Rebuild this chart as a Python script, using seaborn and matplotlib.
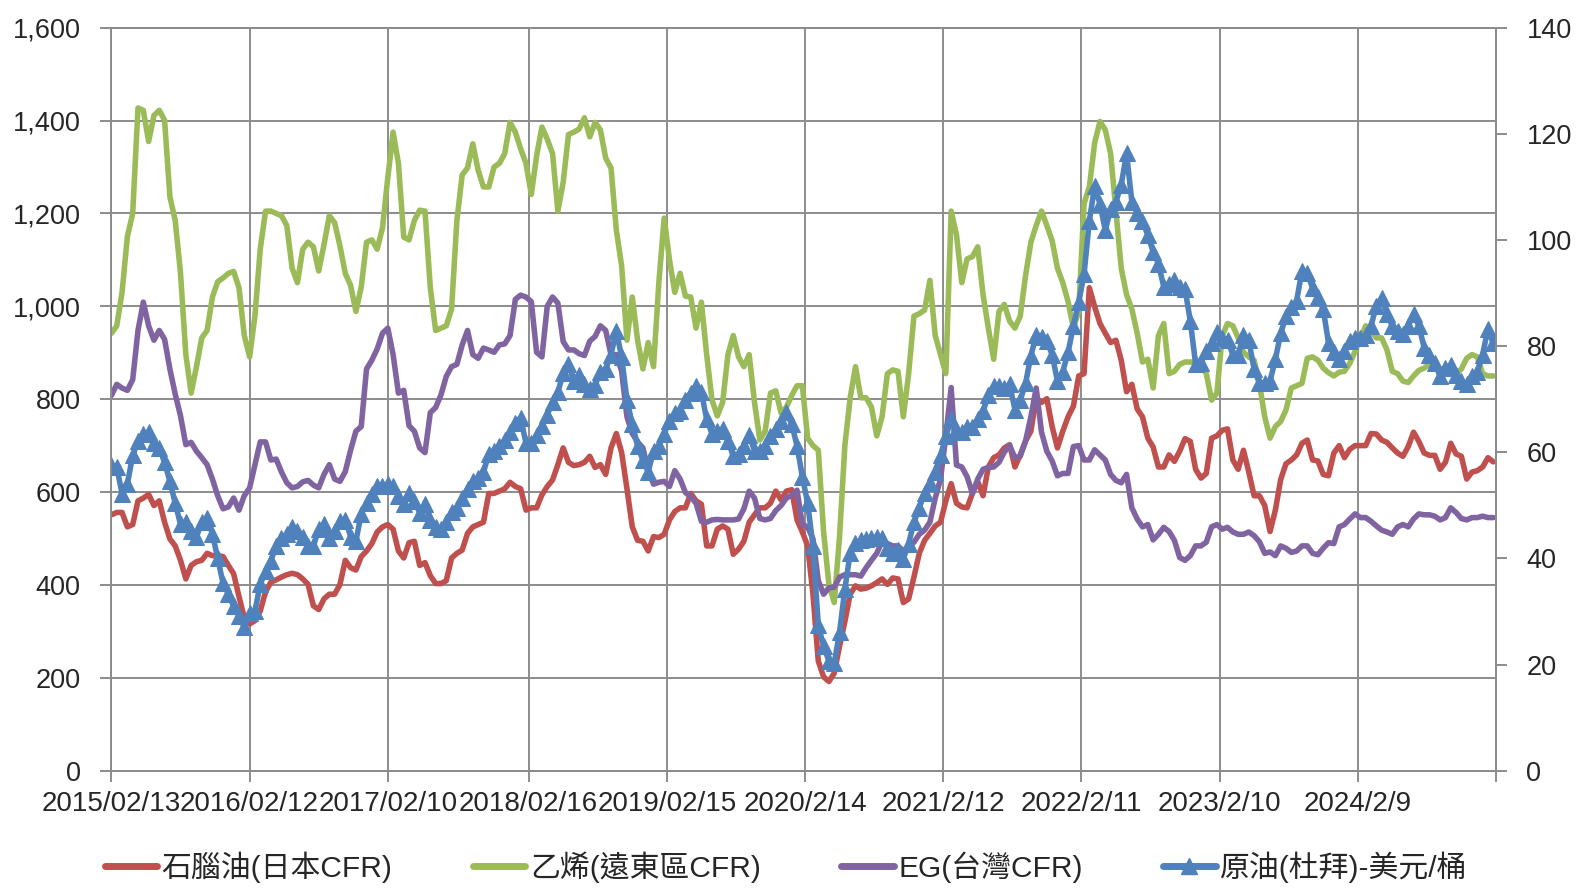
import pandas as pd
import matplotlib.pyplot as plt
import seaborn as sns
from matplotlib.lines import Line2D
from matplotlib.ticker import FuncFormatter

# bi-weekly readings starting 2015/02/13
start_date = '2015-02-13'

naphtha = [
    551, 556, 556, 525, 530, 581, 587, 595, 571, 581, 535, 499, 484, 453, 413, 442, 450, 453, 468, 463, 463, 461,
    442, 424, 375, 329, 316, 323, 344, 385, 406, 411, 417, 422, 425, 422, 413, 401, 355, 347, 370, 380, 380, 401,
    453, 437, 432, 461, 473, 489, 514, 525, 530, 520, 473, 458, 491, 494, 442, 448, 420, 403, 403, 409, 458, 468,
    475, 511, 525, 530, 535, 597, 597, 602, 607, 621, 612, 607, 561, 566, 566, 594, 612, 626, 659, 695, 664,
    657, 659, 664, 677, 653, 659, 638, 695, 726, 685, 607, 525, 496, 494, 473, 504, 502, 509, 540, 558, 566, 566,
    597, 581, 574, 484, 484, 520, 527, 520, 466, 477, 494, 535, 551, 566, 566, 576, 602, 583, 602, 605, 540,
    514, 484, 380, 236, 202, 192, 210, 268, 321, 380, 398, 391, 393, 398, 405, 413, 401, 415, 413, 362, 370, 417,
    468, 496, 511, 527, 535, 581, 618, 576, 568, 566, 597, 623, 592, 654, 674, 680, 695, 702, 654, 680, 710,
    731, 803, 793, 801, 741, 695, 731, 762, 785, 850, 855, 1040, 999, 963, 942, 922, 927, 884, 816, 832, 779, 762,
    716, 697, 654, 654, 680, 666, 688, 715, 709, 649, 630, 640, 716, 721, 733, 736, 669, 649, 690, 643, 592,
    592, 571, 515, 561, 627, 661, 669, 680, 705, 712, 669, 667, 638, 635, 684, 700, 674, 692, 700, 700, 700, 726,
    725, 712, 707, 695, 684, 677, 698, 729, 709, 684, 679, 679, 649, 664, 705, 682, 677, 628, 643, 646, 654, 674, 665,
]

ethylene = [
    942, 958, 1030, 1150, 1200, 1427, 1422, 1355, 1411, 1422, 1401, 1236, 1185, 1071, 896, 813, 870, 932, 948, 1020,
    1053, 1061, 1071, 1075, 1040, 937, 891, 979, 1123, 1205, 1205, 1200, 1195, 1174, 1082, 1051, 1123, 1138, 1128,
    1076, 1133, 1195, 1180, 1130,
    1071, 1045, 989, 1041, 1138, 1143, 1123, 1169, 1277, 1375, 1308, 1149, 1143, 1185, 1207, 1205, 1040, 948, 953,
    958, 994, 1185, 1283, 1298, 1350, 1293, 1257, 1257, 1300, 1308, 1329, 1396, 1375, 1339, 1308, 1241, 1324, 1386,
    1360, 1329, 1205, 1267, 1370,
    1375, 1382, 1406, 1365, 1396, 1380, 1319, 1298, 1164, 1087, 927, 1020, 927, 865, 922, 870, 1051, 1190, 1100,
    1030, 1071, 1022, 1020, 953, 1009, 896, 798, 764, 793, 896, 937, 891, 870, 896, 793, 712, 731, 813, 818, 770,
    783, 808, 829,
    829, 716, 700, 690, 514, 401, 362, 504, 700, 803, 870, 803, 803, 783, 721, 762, 855, 863, 860, 762, 855, 979,
    984, 992, 1056, 937, 896, 855, 1205, 1154, 1051, 1102, 1107, 1128, 1025, 953, 886, 989, 1004, 968, 953, 979, 1066,
    1138, 1174, 1205, 1174, 1141, 1082, 1051, 1010, 953, 989, 1221, 1257, 1352, 1398, 1380, 1329, 1205, 1082, 1025,
    994, 942, 880, 886, 824, 937, 963, 855, 860, 875, 880, 880, 880, 877, 855, 798, 813, 937, 963, 958, 932, 901,
    891, 884,
    834, 762, 716, 741, 752, 777, 824, 829, 834, 888, 891, 884, 867, 857, 850, 858, 860, 877, 903, 930, 958, 948,
    932, 932, 906, 860, 855, 839, 836, 850, 862, 867, 875, 875, 865, 860, 855, 855, 865, 888, 896, 891, 855, 850, 850,
]

eg = [
    808, 832, 824, 819, 842, 948, 1009, 958, 927, 948, 929, 865, 811, 764, 702, 707, 688, 674, 659, 628, 592, 564,
    568, 587, 561, 592, 609, 659, 708, 708, 669, 671, 643, 620, 609, 612, 622, 625, 615, 609, 638, 659, 628, 623,
    644, 690, 731, 741, 865, 884, 908, 942, 953, 896, 813, 819, 743, 731, 695, 685, 771, 782, 809, 849, 870, 875,
    917, 948, 896, 888, 910, 906, 901, 917, 919, 937, 1015, 1024, 1020, 1010, 901, 891, 1000, 1020, 1007, 924, 906,
    906, 898, 894, 925, 935, 958, 948, 896, 896, 860, 762, 726, 708, 695, 646, 617, 621, 623, 612, 646, 628, 599,
    590, 576, 537, 535, 540, 541, 540, 540, 540, 542, 564, 602, 587, 543, 540, 543, 560, 571, 587, 593, 604,
    530, 525, 499, 409, 380, 394, 395, 417, 422, 422, 422, 419, 437, 453, 468, 494, 489, 484, 484, 473, 482, 492,
    509, 518, 535, 587, 628, 721, 825, 658, 654, 633, 597, 628, 649, 653, 654, 664, 686, 700, 674, 677, 710,
    762, 824, 729, 688, 667, 635, 640, 640, 698, 700, 669, 669, 691, 680, 669, 638, 625, 620, 638, 566, 542, 525,
    530, 497, 509, 524, 515, 496, 459, 453, 463, 484, 484, 492, 525, 530, 520, 524, 514, 509, 509, 514, 506,
    493, 468, 471, 463, 484, 479, 470, 473, 484, 484, 468, 465, 479, 491, 489, 525, 530, 542, 553, 545, 545, 537,
    527, 518, 514, 509, 525, 530, 525, 542, 553, 551, 551, 548, 540, 545, 566, 556, 543, 540, 545, 545, 548, 545, 545,
]

crude = [
    57.6, 57.2, 52.2, 54.0, 59.4, 62.1, 63.5, 63.8, 61.7, 60.8, 58.1, 54.5, 50.4, 46.4, 46.8, 45.2, 44.1, 46.8,
    47.7, 44.6, 40.0, 35.3, 33.3, 31.0, 29.2, 27.0, 29.7, 30.1, 35.1, 37.6, 39.6, 42.3, 43.9, 44.6, 45.9, 45.2,
    44.1, 42.3, 42.3, 45.5, 46.4, 43.9, 45.2, 47.0,
    47.3, 44.1, 43.2, 48.4, 50.4, 52.2, 53.6, 53.6, 54.0, 53.6, 51.8, 50.2, 52.4, 50.9, 48.6, 50.2, 47.3, 45.9,
    45.5, 46.8, 48.8, 49.5, 51.3, 53.1, 54.5, 55.1, 56.3, 59.6, 60.3, 61.2, 62.3, 63.8, 65.6, 66.5, 61.7, 61.7,
    63.2, 64.9, 67.1, 69.4, 71.3, 74.9, 76.6,
    73.4, 74.6, 72.8, 71.9, 72.6, 75.2, 75.7, 78.4, 82.9, 77.9, 69.8, 65.3, 61.2, 58.5, 56.3, 60.3, 61.2, 63.5,
    65.9, 67.4, 67.7, 69.8, 71.2, 72.4, 71.3, 66.2, 63.5, 64.0, 64.4, 62.1, 59.3, 59.7, 61.2, 63.2, 60.3, 60.2,
    61.2, 63.0, 64.4, 65.8, 67.6, 65.3, 61.2,
    55.4, 50.4, 42.3, 27.4, 23.4, 20.7, 20.2, 26.1, 34.2, 41.0, 42.9, 43.4, 43.7, 43.8, 44.1, 43.8, 42.0, 41.0,
    41.6, 39.9, 42.8, 46.8, 49.5, 52.4, 54.2, 56.3, 59.4, 63.0, 66.2, 64.1, 63.8, 64.7, 64.7, 66.2, 67.7, 70.7,
    72.5, 72.5, 72.1, 72.8, 68.0, 69.8, 73.0,
    78.2, 82.0, 81.8, 80.9, 78.4, 73.4, 75.2, 78.8, 83.8, 88.3, 93.5, 103.6, 110.1, 106.8, 101.8, 105.9, 107.2,
    110.4, 116.3, 107.2, 105.0, 103.6, 100.9, 97.8, 95.5, 91.2, 91.7, 92.4, 91.2, 90.8, 84.7, 76.6, 76.8, 79.1,
    80.6, 82.7, 81.5, 81.1, 78.4, 78.4, 82.0, 81.1, 75.7,
    73.0, 73.0, 73.4, 77.5, 82.4, 85.6, 87.4, 88.5, 94.2, 93.7, 91.0, 89.2, 87.0, 80.6, 78.8, 77.5, 79.0, 80.9,
    81.5, 81.5, 82.0, 83.8, 87.6, 89.0, 86.1, 83.8, 82.9, 82.2, 83.8, 86.1, 83.8, 79.7, 78.4, 76.8, 74.3, 75.9,
    76.4, 74.6, 73.4, 72.8, 74.3, 75.2, 78.4, 83.3, 80.5,
]

tick_dates = ['2015-02-13', '2016-02-12', '2017-02-10', '2018-02-16', '2019-02-15', '2020-02-14',
              '2021-02-12', '2022-02-11', '2023-02-10', '2024-02-09', '2025-02-07']
tick_labels = ['2015/02/13', '2016/02/12', '2017/02/10', '2018/02/16', '2019/02/15', '2020/2/14',
               '2021/2/12', '2022/2/11', '2023/2/10', '2024/2/9', '']

series_names = ['石腦油(日本CFR)', '乙烯(遠東區CFR)', 'EG(台灣CFR)', '原油(杜拜)-美元/桶']
colors = ['#C0504D', '#9BBB59', '#8064A2', '#4F81BD']
grid_color = '#8c8c8c'

dates = pd.date_range(start_date, periods=len(naphtha), freq='14D')

sns.set_style('white')
plt.rcParams['font.family'] = ['Liberation Sans', 'Noto Sans CJK TC']

fig = plt.figure(figsize=(15.85, 8.93), dpi=100)
ax = fig.add_axes([0.0703, 0.137, 0.8735, 0.832])
ax2 = ax.twinx()

# left axis: petrochemical prices
for vals, c in zip([naphtha, ethylene, eg], colors[:3]):
    sns.lineplot(x=dates, y=vals, ax=ax, color=c, linewidth=4, legend=False)

# right axis: crude oil
sns.lineplot(x=dates, y=crude, ax=ax2, color=colors[3], linewidth=4, marker='^',
             markersize=12, markeredgecolor=colors[3], legend=False)

ax.set_ylim(0, 1600)
ax.set_yticks(range(0, 1601, 200))
ax.yaxis.set_major_formatter(FuncFormatter(lambda v, p: f'{v:,.0f}'))
ax2.set_ylim(0, 140)
ax2.set_yticks(range(0, 141, 20))

ax.set_xlim(pd.Timestamp(tick_dates[0]), pd.Timestamp(tick_dates[-1]))
ax.set_xticks(pd.to_datetime(tick_dates))
ax.set_xticklabels(tick_labels)

ax.set_xlabel('')
ax.set_ylabel('')
ax2.set_ylabel('')

ax.grid(True, color=grid_color, linewidth=1.4)
ax.set_axisbelow(True)
ax2.grid(False)

for a in (ax, ax2):
    for s in a.spines.values():
        s.set_color(grid_color)
        s.set_linewidth(1.4)

ax.tick_params(axis='x', bottom=True, length=8, width=1.4, color=grid_color, pad=7, labelsize=20)
ax.tick_params(axis='y', left=True, length=8, width=1.4, color=grid_color, pad=14, labelsize=19.5)
ax2.tick_params(axis='y', right=True, length=8, width=1.4, color=grid_color, pad=14, labelsize=19.5)

handles = [Line2D([], [], color=c, linewidth=5) for c in colors[:3]]
handles.append(Line2D([], [], color=colors[3], linewidth=5, marker='^', markersize=12))
fig.legend(handles, series_names, loc='center', bbox_to_anchor=(0.496, 0.029), ncol=4, frameon=False,
           fontsize=21.5, handlelength=1.75, handletextpad=0.15, columnspacing=2.7)

fig.savefig('out.png', dpi=100)
